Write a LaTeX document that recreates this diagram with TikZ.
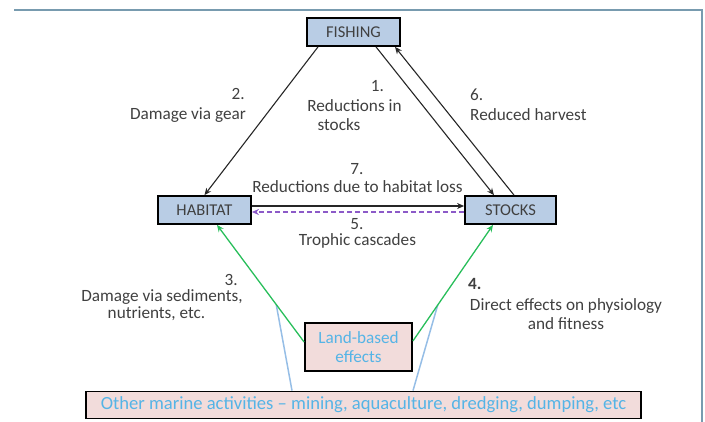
\documentclass[tikz,border=0pt]{standalone}
\usepackage{fontspec}
\setmainfont{Carlito}
\usetikzlibrary{arrows.meta,calc}
\definecolor{boxblue}{RGB}{185,205,229}
\definecolor{boxpink}{RGB}{242,220,219}
\definecolor{txtgray}{RGB}{64,64,64}
\definecolor{txtblue}{RGB}{85,180,230}
\definecolor{arrgreen}{RGB}{40,190,90}
\definecolor{dashpurple}{RGB}{140,90,200}
\definecolor{linkblue}{RGB}{150,190,230}
\definecolor{framecol}{RGB}{120,155,175}
\begin{document}
\begin{tikzpicture}[x=1pt,y=-1pt,
  font=\fontsize{17.2}{19.5}\selectfont,
  bluebox/.style={draw=black, line width=1.8pt, fill=boxblue, minimum height=28pt, inner sep=0pt, text=txtgray, font=\fontsize{16.5}{19.5}\selectfont},
  pinkbox/.style={draw=black, line width=1.8pt, fill=boxpink, inner sep=0pt, text=txtblue, align=center},
  lbl/.style={inner sep=0pt, text=txtgray, anchor=mid},
  conn/.style={draw=black!85, line width=1.1pt, -{Stealth[length=7pt,width=6pt]}},
  trophic/.style={draw=dashpurple, line width=1.3pt, dash pattern=on 5pt off 3pt, -{Stealth[length=7pt,width=6pt]}},
  landarrow/.style={draw=arrgreen, line width=1.3pt, -{Stealth[length=7pt,width=6pt]}},
  linkline/.style={draw=linkblue, line width=1.5pt},
  framestyle/.style={draw=framecol, line width=2pt}]
\useasboundingbox (0,0) rectangle (705,422);

% frame
\coordinate (fa) at (14,10);
\coordinate (fb) at (702,10);
\coordinate (fc) at (702,422);
\draw[framestyle] (fa) -- (fb) -- (fc);

% boxes
\node[bluebox, minimum width=93pt] (fishing) at (353.5,32) {FISHING};
\node[bluebox, minimum width=93pt] (habitat) at (204.5,210) {HABITAT};
\node[bluebox, minimum width=91pt] (stocks) at (510.5,210) {STOCKS};
\node[pinkbox, minimum width=107pt, minimum height=48pt] (land) at (358.5,347) {Land-based\\effects};
\node[pinkbox, minimum width=555pt, minimum height=27pt, font=\fontsize{18.6}{20}\selectfont] (other) at (363.5,405) {Other marine activities – mining, aquaculture, dredging, dumping, etc};

% connectors among fishing, habitat, stocks
\draw[conn] ($(fishing.south)+(-35.5,0)$) -- (habitat.north);
\draw[conn] ($(fishing.south)+(22.5,0)$) -- ($(stocks.north)+(-16.5,0)$);
\draw[conn] ($(stocks.north)+(3.5,0)$) -- ($(fishing.south)+(41.5,0)$);
\draw[conn] ($(habitat.east)+(0,-4)$) -- ($(stocks.west)+(0,-4)$);
\draw[trophic] ($(stocks.west)+(0,2)$) -- ($(habitat.east)+(0,2)$);

% land-based arrows
\coordinate (l3s) at ($(land.west)+(0,-5)$);
\coordinate (l3e) at ($(habitat.south)+(12.5,0)$);
\coordinate (l4s) at ($(land.east)+(0,-6)$);
\coordinate (l4e) at ($(stocks.south)+(-17.5,0)$);
\coordinate (j3) at ($(l3s)!0.32!(l3e)$);
\coordinate (j4) at ($(l4s)!0.31!(l4e)$);
\draw[linkline] (other.north -| 292,0) -- (j3);
\draw[linkline] (other.north -| 413,0) -- (j4);
\draw[landarrow] (l3s) -- (l3e);
\draw[landarrow] (l4s) -- (l4e);

% labels
\node[lbl, anchor=mid east] (l2n) at (245,97) {2.};
\node[lbl, anchor=mid east] (l2t) at (246,117) {Damage via gear};
\node[lbl] (l1n) at (377.5,89) {1.};
\node[lbl] (l1a) at (354.5,109) {Reductions in};
\node[lbl] (l1b) at (339,128) {stocks};
\node[lbl, anchor=mid west] (l6n) at (470,98) {6.};
\node[lbl, anchor=mid west] (l6t) at (470,118) {Reduced harvest};
\node[lbl] (l7n) at (357,172) {7.};
\node[lbl] (l7t) at (357.5,190) {Reductions due to habitat loss};
\node[lbl] (l5n) at (357,227) {5.};
\node[lbl] (l5t) at (357.5,243) {Trophic cascades};
\node[lbl, anchor=mid east] (l3n) at (238,283) {3.};
\node[lbl] (l3a) at (162,299) {Damage via sediments,};
\node[lbl] (l3b) at (156.5,316) {nutrients, etc.};
\node[lbl, anchor=mid west, font=\fontsize{17.2}{19.5}\selectfont\bfseries] (l4n) at (468,287) {4.};
\node[lbl] (l4a) at (566,308) {Direct effects on physiology};
\node[lbl] (l4b) at (566,327) {and fitness};
\end{tikzpicture}
\end{document}
